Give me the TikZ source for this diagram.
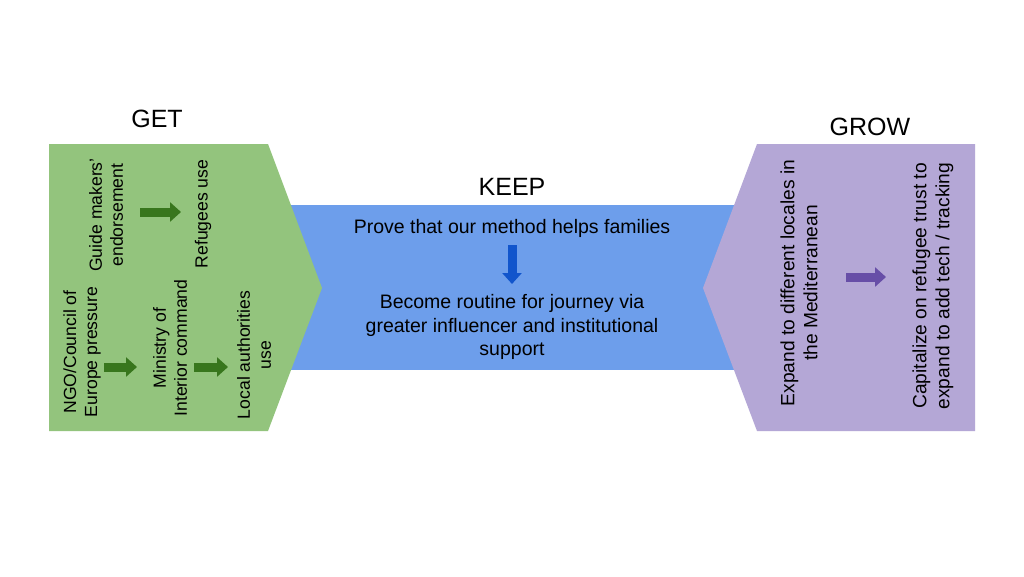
\documentclass[tikz,border=0pt]{standalone}
\usepackage{fontspec}
\setmainfont{Liberation Sans}
\usetikzlibrary{arrows.meta}
\definecolor{gfill}{HTML}{93C47D}
\definecolor{bfill}{HTML}{6D9EEB}
\definecolor{pfill}{HTML}{B4A7D6}
\definecolor{garrow}{HTML}{38761D}
\definecolor{barrow}{HTML}{1155CC}
\definecolor{parrow}{HTML}{674EA7}
\tikzset{
  body/.style={font=\fontsize{19.5}{23.5}\selectfont, align=center, inner sep=0pt, text=black},
  gbody/.style={font=\fontsize{17.6}{21}\selectfont, align=center, inner sep=0pt, text=black, rotate=90},
  pbody/.style={font=\fontsize{19.2}{23}\selectfont, align=center, inner sep=0pt, text=black, rotate=90},
  title/.style={font=\fontsize{25}{28}\selectfont, inner sep=0pt},
  blockarrow/.style={line width=9pt, -{Triangle[length=11pt,width=19pt]}}
}
\begin{document}
\begin{tikzpicture}[x=1pt,y=-1pt]
\useasboundingbox (0,0) rectangle (1024,576);
\fill[white] (0,0) rectangle (1024,576);
% KEEP band
\fill[bfill] (285,205) rectangle (740,370);
% GET pentagon
\fill[gfill] (49,144) -- (268,144) -- (322,288) -- (268,431) -- (49,431) -- cycle;
% GROW pentagon
\fill[pfill] (975,144) -- (757,144) -- (703,288) -- (757,431) -- (975,431) -- cycle;
% titles
\node[title] (get) at (157,119) {GET};
\node[title] (keep) at (512,187) {KEEP};
\node[title] (grow) at (870,127) {GROW};
% GET texts
\node[gbody] (guide) at (106,215) {Guide makers'\\endorsement};
\node[gbody] (refugees) at (203,214) {Refugees use};
\node[gbody] (ngo) at (82,352) {NGO/Council of\\Europe pressure};
\node[gbody] (ministry) at (170,348) {Ministry of\\Interior command};
\node[gbody] (local) at (254,355) {Local authorities\\use};
\coordinate (a1s) at (140,212); \coordinate (a1e) at (181,212);
\coordinate (a2s) at (104,367); \coordinate (a2e) at (137,367);
\coordinate (a3s) at (194,367); \coordinate (a3e) at (228,367);
\draw[blockarrow, garrow] (a1s) -- (a1e);
\draw[blockarrow, garrow] (a2s) -- (a2e);
\draw[blockarrow, garrow] (a3s) -- (a3e);
% KEEP texts
\node[body] (prove) at (512,228) {Prove that our method helps families};
\node[body] (become) at (512,327) {Become routine for journey via\\greater influencer and institutional\\support};
\coordinate (b1s) at (512,245); \coordinate (b1e) at (512,284);
\draw[blockarrow, barrow] (b1s) -- (b1e);
% GROW texts
\node[pbody] (expand) at (799,283) {Expand to different locales in\\the Mediterranean};
\node[pbody] (capital) at (933,286) {Capitalize on refugee trust to\\expand to add tech / tracking};
\coordinate (c1s) at (846,277); \coordinate (c1e) at (886,277);
\draw[blockarrow, parrow] (c1s) -- (c1e);
\end{tikzpicture}
\end{document}
